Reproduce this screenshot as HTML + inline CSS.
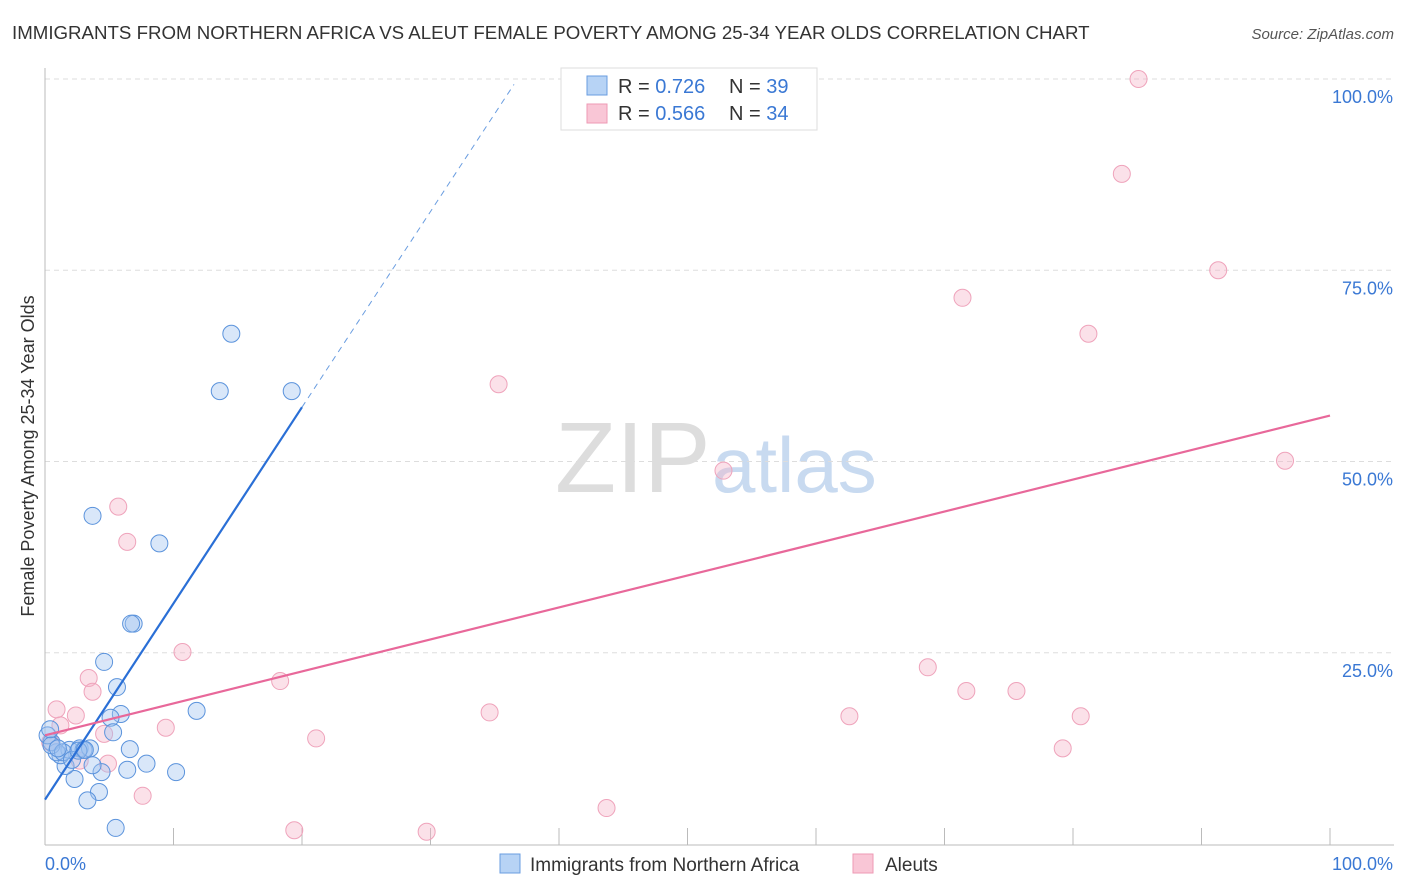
<!DOCTYPE html>
<html><head><meta charset="utf-8"><style>
body{margin:0;background:#fff;font-family:"Liberation Sans",sans-serif;}
#wrap{position:relative;width:1406px;height:892px;overflow:hidden;}
svg text{font-family:"Liberation Sans",sans-serif;}
</style></head><body>
<div id="wrap">
<svg id="svg" width="1406" height="892">
<text x="12" y="39" font-size="18.7" fill="#333">IMMIGRANTS FROM NORTHERN AFRICA VS ALEUT FEMALE POVERTY AMONG 25-34 YEAR OLDS CORRELATION CHART</text>
<text x="1394" y="39" font-size="15" fill="#555" font-style="italic" text-anchor="end">Source: ZipAtlas.com</text>
<text transform="translate(34,456) rotate(-90)" font-size="18" fill="#333" text-anchor="middle">Female Poverty Among 25-34 Year Olds</text>
<text x="555" y="492" font-size="100" fill="#ddd" font-family="Liberation Serif">ZIP</text>
<text x="712" y="492" font-size="78" fill="#c8daf0">atlas</text>
<g id="grid"></g><g id="marks"></g>
<g>
<rect x="561" y="68" width="256" height="62" fill="#fff" stroke="#ddd"/>
<rect x="587" y="76" width="20" height="19" fill="#b7d3f5" stroke="#6a9de0"/>
<rect x="587" y="104" width="20" height="19" fill="#f9c6d6" stroke="#ee9ab4"/>
<text x="618" y="93" font-size="20" fill="#333">R = <tspan fill="#3a78d4">0.726</tspan></text>
<text x="729" y="93" font-size="20" fill="#333">N = <tspan fill="#3a78d4">39</tspan></text>
<text x="618" y="120" font-size="20" fill="#333">R = <tspan fill="#3a78d4">0.566</tspan></text>
<text x="729" y="120" font-size="20" fill="#333">N = <tspan fill="#3a78d4">34</tspan></text>
</g>
<g>
<rect x="500" y="854" width="20" height="19" fill="#b7d3f5" stroke="#6a9de0"/>
<text x="530" y="871" font-size="19" fill="#333">Immigrants from Northern Africa</text>
<rect x="853" y="854" width="20" height="19" fill="#f9c6d6" stroke="#ee9ab4"/>
<text x="885" y="871" font-size="19" fill="#333">Aleuts</text>
</g>
</svg></div>
<script>
const yTicks=[25,50,75,100];
const xTickLabels=["0.0%","100.0%"];
const blueX=[3.7,8.9,14.5,13.6,19.2,6.9,6.7,4.6,5.6,5.9,5.1,5.3,11.8,6.6,7.9,10.2,6.4,4.4,4.2,3.3,2.3,5.5,1.6,1.2,1.9,2.7,3.0,3.5,0.9,0.5,0.2,0.5,1.4,2.1,2.6,3.7,1.0,0.4,3.1];
const blueY=[42.9,39.3,66.7,59.2,59.2,28.8,28.8,23.8,20.5,17.0,16.5,14.6,17.4,12.4,10.5,9.4,9.7,9.4,6.8,5.7,8.5,2.1,10.2,11.6,12.3,12.5,12.3,12.5,12.0,13.3,14.2,12.9,12.0,11.0,12.2,10.3,12.5,15.0,12.3];
const pinkX=[85.1,83.8,91.3,71.4,81.2,35.3,52.8,96.5,5.7,6.4,10.7,18.3,68.7,71.7,75.6,3.4,3.7,0.9,2.4,1.2,9.4,21.1,34.6,62.6,80.6,79.2,4.6,7.6,43.7,19.4,29.7,0.4,2.7,4.9];
const pinkY=[100,87.6,75.0,71.4,66.7,60.1,48.8,50.1,44.1,39.5,25.1,21.3,23.1,20.0,20.0,21.7,19.9,17.6,16.8,15.5,15.2,13.8,17.2,16.7,16.7,12.5,14.4,6.3,4.7,1.8,1.6,13.3,10.9,10.5];
const blueLine=[0,5.8,20,57.1], blueDash=[20,57.1,36.5,99.3];
const pinkLine=[0,14.2,100,56.0];
const NS="http://www.w3.org/2000/svg";
const X=v=>45+v*12.85, Y=v=>844-v*7.65;
function mk(t,a,p){const e=document.createElementNS(NS,t);for(const k in a)e.setAttribute(k,a[k]);p.appendChild(e);return e;}
const grid=document.getElementById('grid'),marks=document.getElementById('marks');
yTicks.forEach(v=>{
 const l=mk('line',{x1:45,x2:1394,y1:Y(v),y2:Y(v),stroke:'#ddd','stroke-dasharray':'5,4'},grid);
 
 
 const t=mk('text',{x:1393,y:Y(v)+24,'font-size':18,fill:'#3a78d4','text-anchor':'end'},grid);
 t.textContent=v.toFixed(1)+'%';
 
 
});
mk('line',{x1:45,x2:45,y1:68,y2:845,stroke:'#bbb'},grid);
mk('line',{x1:45,x2:1394,y1:845,y2:845,stroke:'#bbb'},grid);
for(let i=0;i<=10;i++){const tk=mk('line',{x1:X(i*10),x2:X(i*10),y1:828,y2:845,stroke:'#bbb'},grid);
 
 }
const xl0=mk('text',{x:45,y:870,'font-size':18,fill:'#3a78d4'},grid);xl0.textContent=xTickLabels[0];


const xl1=mk('text',{x:1393,y:870,'font-size':18,fill:'#3a78d4','text-anchor':'end'},grid);xl1.textContent=xTickLabels[1];


pinkX.forEach((x,i)=>{const c=mk('circle',{cx:X(x),cy:Y(pinkY[i]),r:8.5,fill:'rgba(246,180,200,0.4)',stroke:'#efa3bb','stroke-width':1},marks);
 
 });
blueX.forEach((x,i)=>{const c=mk('circle',{cx:X(x),cy:Y(blueY[i]),r:8.5,fill:'rgba(160,195,240,0.4)',stroke:'#5b93dc','stroke-width':1},marks);
 
 });
const bl=mk('line',{x1:X(blueLine[0]),y1:Y(blueLine[1]),x2:X(blueLine[2]),y2:Y(blueLine[3]),stroke:'#2a6fd6','stroke-width':2.2},marks);


const bd=mk('line',{x1:X(blueDash[0]),y1:Y(blueDash[1]),x2:X(blueDash[2]),y2:Y(blueDash[3]),stroke:'#6a9de0','stroke-width':1,'stroke-dasharray':'6,5'},marks);


const pl=mk('line',{x1:X(pinkLine[0]),y1:Y(pinkLine[1]),x2:X(pinkLine[2]),y2:Y(pinkLine[3]),stroke:'#e8689a','stroke-width':2.2},marks);


</script></body></html>
